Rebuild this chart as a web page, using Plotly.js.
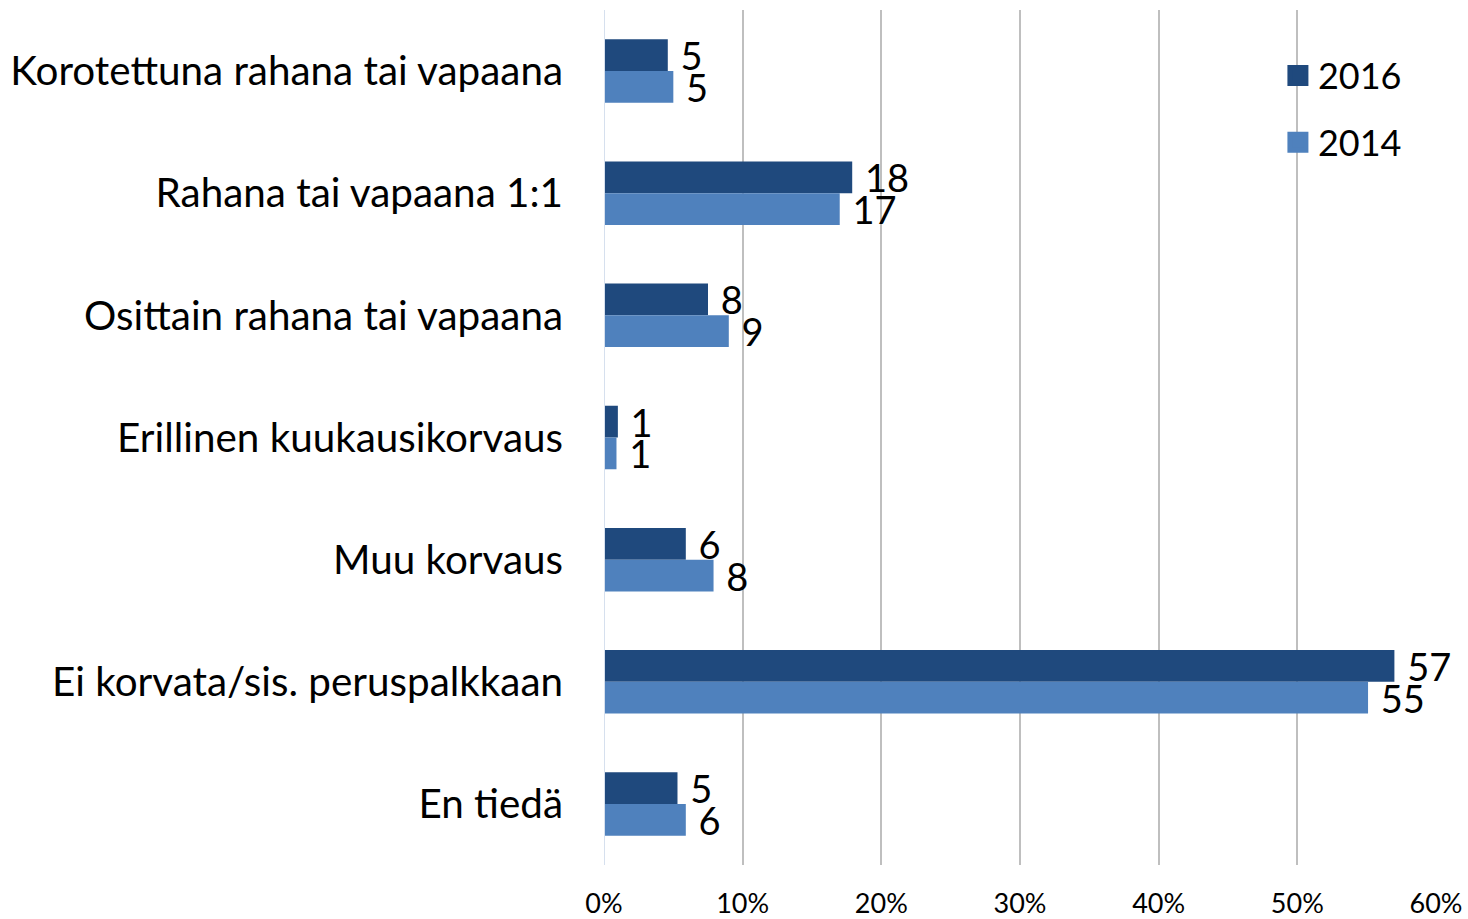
<!DOCTYPE html>
<html>
<head>
<meta charset="utf-8">
<script src="https://cdn.plot.ly/plotly-3.0.1.min.js"></script>
<style>html,body{margin:0;padding:0;background:#fff;}#chart{width:1468px;height:919px;}</style>
</head>
<body>
<div id="chart"></div>
<script>
const categories = [
  "Korotettuna rahana tai vapaana",
  "Rahana tai vapaana 1:1",
  "Osittain rahana tai vapaana",
  "Erillinen kuukausikorvaus",
  "Muu korvaus",
  "Ei korvata/sis. peruspalkkaan",
  "En tiedä"
];
const values2016 = [4.6, 17.9, 7.5, 1.0, 5.9, 57.0, 5.3];
const values2014 = [5.0, 17.0, 9.0, 0.9, 7.9, 55.1, 5.9];
const labels2016 = ["5", "18", "8", "1", "6", "57", "5"];
const labels2014 = ["5", "17", "9", "1", "8", "55", "6"];
const seriesNames = ["2016", "2014"];
const colors = ["#1F497D", "#4F81BD"];
const xTickVals = [0, 10, 20, 30, 40, 50, 60];
const xTickText = ["0%", "10%", "20%", "30%", "40%", "50%", "60%"];

const FONT = "Lato, 'Noto Sans', sans-serif";
const pad = s => "\u00a0" + s;

function barTrace(name, vals, labels, color) {
  return {
    type: "bar", orientation: "h", name: name,
    y: categories, x: vals,
    text: labels.map(pad), textposition: "outside", constraintext: "none",
    cliponaxis: false,
    textfont: {family: FONT, size: 38, color: "#000"},
    marker: {color: color},
    showlegend: false, hoverinfo: "skip"
  };
}
function legendTrace(name, color, group) {
  return {
    type: "scatter", mode: "markers", name: name, x: [null], y: [null],
    legendgroup: group,
    marker: {symbol: "square", size: 16, color: color, line: {color: color, width: 5}},
    showlegend: true, hoverinfo: "skip"
  };
}

const data = [
  barTrace(seriesNames[0], values2016, labels2016, colors[0]),
  barTrace(seriesNames[1], values2014, labels2014, colors[1]),
  legendTrace(seriesNames[0], colors[0], "a"),
  legendTrace(seriesNames[1], colors[1], "b")
];

const layout = {
  width: 1468, height: 919,
  margin: {l: 604, r: 32, t: 10, b: 54},
  paper_bgcolor: "#fff", plot_bgcolor: "#fff",
  barmode: "group", bargap: 0.48, bargroupgap: 0,
  font: {family: FONT, color: "#000"},
  xaxis: {
    range: [0, 60], tickvals: xTickVals, ticktext: xTickText,
    showgrid: true, gridcolor: "#BFBFBF", gridwidth: 2,
    zeroline: false, showline: false,
    tickfont: {family: FONT, size: 27, color: "#000"},
    ticks: "", ticklabelstandoff: 20, fixedrange: true
  },
  yaxis: {
    type: "category", autorange: "reversed",
    showgrid: false, zeroline: false, showline: false,
    tickfont: {family: FONT, size: 40.4, color: "#000"},
    ticks: "", ticklabelstandoff: 40, fixedrange: true
  },
  shapes: [{type: "line", xref: "x", yref: "paper", x0: 0, x1: 0, y0: 0, y1: 1,
    line: {color: "#D6E0EE", width: 2}}],
  legend: {
    x: 0.81, xanchor: "left", y: 0.9585, yanchor: "top",
    font: {family: FONT, size: 36, color: "#000"},
    bgcolor: "rgba(255,255,255,0)", tracegroupgap: 17,
    traceorder: "grouped"
  },
  showlegend: true
};

Plotly.newPlot("chart", data, layout, {displayModeBar: false, staticPlot: true});
</script>
</body>
</html>
